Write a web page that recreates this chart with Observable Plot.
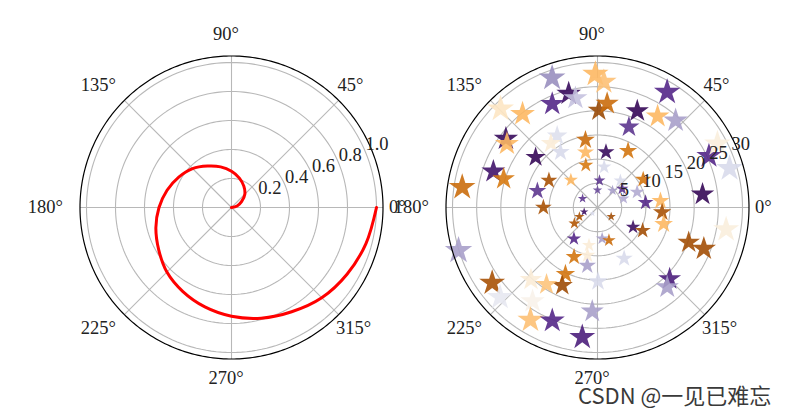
<!DOCTYPE html>
<html><head><meta charset="utf-8">
<script src="https://cdn.jsdelivr.net/npm/d3@7"></script>
<script src="https://cdn.jsdelivr.net/npm/@observablehq/plot@0.6"></script>
<style>
body{margin:0;background:#fff;}
#wrap{position:relative;width:792px;height:413px;overflow:hidden;}
#left,#right{position:absolute;top:0;width:396px;height:413px;}
#left{left:0;} #right{left:396px;}
#wrap svg{display:block;background:transparent;}
#wm{position:absolute;left:578px;top:378px;font-family:"Noto Sans CJK SC";font-size:22px;color:#3a3a3a;white-space:nowrap;}
</style></head><body>
<div id="wrap"><div id="left"></div><div id="right"></div><div id="wm">CSDN @一见已难忘</div></div>
<script>
// ---- left panel: spiral (theta in degrees, r) ----
const spiralTheta = [0,15,30,45,60,75,90,105,120,135,150,165,180,195,210,225,240,255,270,285,300,315,330,345,360];
const spiralR = [0,0.04,0.08,0.13,0.17,0.21,0.25,0.29,0.33,0.38,0.42,0.46,0.5,0.54,0.58,0.63,0.67,0.71,0.75,0.79,0.83,0.88,0.92,0.96,1.0];
const leftRTicks = [0.2,0.4,0.6,0.8,1.0];
const leftRLabels = ["0.2","0.4","0.6","0.8","1.0"];

// ---- shared angular ticks ----
const angleTicks = [0,45,90,135,180,225,270,315];
const angleLabels = ["0°","45°","90°","135°","180°","225°","270°","315°"];

// ---- right panel: star scatter ----
const starTheta = [109.3,104.2,101.4,113.6,134.5,128.7,90.9,87.1,89.2,84.7,143.1,144.9,140.9,119.4,126.0,100.1,102.2,105.4,81.3,61.6,160.9,163.0,171.5,150.9,134.2,164.6,180.0,80.7,31.6,85.8,90.0,149.0,49.6,37.1,48.6,21.3,5.9,5.9,355.8,346.0,7.1,24.8,16.5,28.0,350.3,339.1,338.8,315.3,311.2,48.1,56.6,67.6,68.7,58.9,197.2,215.6,222.6,197.9,206.9,214.5,233.0,257.3,326.3,331.2,332.9,278.5,289.2,244.6,297.6,260.0,244.3,245.7,236.5,227.3,235.3,239.2,248.2,263.3,267.1,270.4,230.2,123.7,258.2,19.1];
const starR = [28.4,24.3,23.1,23.4,28.6,24.8,27.6,26.0,20.1,21.6,23.7,22.9,16.5,17.0,16.4,14.2,11.7,9.1,11.6,13.3,22.8,20.3,28.3,11.5,7.9,12.9,11.2,8.5,11.1,5.6,3.6,3.6,7.3,6.4,4.7,8.8,10.0,13.1,13.4,14.1,21.9,25.4,28.5,28.1,27.0,20.2,23.6,21.0,21.9,24.2,22.6,21.6,17.9,27.9,30.1,26.8,27.4,2.9,4.2,5.8,8.1,8.0,3.4,8.4,10.5,6.5,7.2,11.3,11.9,12.2,15.3,17.7,19.1,20.3,23.6,27.1,25.2,27.0,21.5,15.3,1.6,13.8,10.1,5.7];
const starColor = [0.75,0.97,0.65,0.9,0.42,0.3,0.3,0.32,0.05,0.15,0.97,0.3,0.98,0.58,0.45,0.15,0.3,0.18,0.97,0.17,0.95,0.18,0.15,0.08,0.3,0.88,0.08,0.6,0.17,0.88,0.85,0.88,0.6,0.88,0.72,0.7,0.9,0.3,0.08,0.3,0.98,0.9,0.6,0.46,0.46,0.07,0.07,0.92,0.72,0.72,0.3,0.98,0.88,0.9,0.72,0.08,0.55,0.96,0.08,0.1,0.9,0.45,0.07,0.96,0.07,0.72,0.15,0.17,0.6,0.72,0.17,0.06,0.33,0.45,0.48,0.32,0.9,0.92,0.72,0.6,0.6,0.6,0.45,0.7];
const rightRTicks = [5,10,15,20,25,30];
const rightRLabels = ["5","10","15","20","25","30"];

// PuOr colormap stops (brown -> purple)
const puorStops = ["#7f3b08","#b35806","#e08214","#fdb863","#fee0b6","#f7f7f7","#d8daeb","#b2abd2","#8073ac","#542788","#2d004b"];

const RAD = Math.PI / 180;
const RPX = 151.5;           // pixel radius of the outer frame
const FONT = "'Liberation Serif', 'DejaVu Serif', serif";
const FS = 18.5;

function polar(opts) {
  const {cx, cy, rmax, rTicks, rLabels, dataMarks, extra = {}} = opts;
  const k = rmax / RPX; // data units per pixel
  const ringData = rTicks.flatMap(v => d3.range(0, 361, 2).map(a => ({v, x: v * Math.cos(a * RAD), y: v * Math.sin(a * RAD)})));
  const frame = d3.range(0, 361, 1).map(a => ({x: rmax * Math.cos(a * RAD), y: rmax * Math.sin(a * RAD)}));
  const angData = angleTicks.map((a, i) => {
    const lab = angleLabels[i];
    const ux = Math.cos(a * RAD), uy = Math.sin(a * RAD);
    const w = FS / 2 * (lab.length - 1) + FS;
    const cxp = ux * (RPX + 6) + ux * w / 2;
    const cyp = uy * (RPX + 6) + uy * (uy > 0 ? 16 : 13);
    return {x: (cxp - w / 2) * k, y: cyp * k, lab};
  });
  const rLab = rTicks.map((v, i) => ({x: v * Math.cos(22.5 * RAD), y: v * Math.sin(22.5 * RAD), lab: rLabels[i]}));
  return Plot.plot({
    width: 396, height: 413,
    style: {fontFamily: FONT, background: "transparent", overflow: "visible"},
    x: {type: "linear", domain: [-rmax, rmax], range: [cx - RPX, cx + RPX], axis: null},
    y: {type: "linear", domain: [-rmax, rmax], range: [cy + RPX, cy - RPX], axis: null},
    ...extra,
    marks: [
      Plot.line(ringData, {x: "x", y: "y", z: "v", stroke: "#b8b8b8", strokeWidth: 1.1}),
      Plot.link(angleTicks, {x1: () => 0, y1: () => 0, x2: a => rmax * Math.cos(a * RAD), y2: a => rmax * Math.sin(a * RAD), stroke: "#b8b8b8", strokeWidth: 1.1}),
      ...dataMarks,
      Plot.line(frame, {x: "x", y: "y", stroke: "#000", strokeWidth: 1.2}),
      Plot.text(rLab, {x: "x", y: "y", text: "lab", textAnchor: "start", lineAnchor: "bottom", dy: -2, fontSize: FS, fontFamily: FONT, fill: "#222"}),
      Plot.text(angData, {x: "x", y: "y", text: "lab", textAnchor: "start", lineAnchor: "middle", fontSize: FS, fontFamily: FONT, fill: "#222"})
    ]
  });
}

const spiral = spiralTheta.map((t, i) => ({t, r: spiralR[i]}));
const leftPlot = polar({
  cx: 231, cy: 207, rmax: 1.0 * RPX / 145, rTicks: leftRTicks, rLabels: leftRLabels,
  dataMarks: [
    Plot.line(spiral, {x: d => d.r * Math.cos(d.t * RAD), y: d => d.r * Math.sin(d.t * RAD), stroke: "red", strokeWidth: 3, curve: "catmull-rom"})
  ]
});
document.getElementById("left").append(leftPlot);

const stars = starTheta.map((t, i) => ({t, r: starR[i], c: starColor[i]}));
const rightPlot = polar({
  cx: 201, cy: 207, rmax: 30 * RPX / 145, rTicks: rightRTicks, rLabels: rightRLabels,
  extra: {
    r: {type: "sqrt", domain: [0, 30], range: [0, 8.6]},
    color: {type: "linear", domain: d3.range(11).map(i => i / 10), range: puorStops, interpolate: "rgb"}
  },
  dataMarks: [
    Plot.dot(stars, {x: d => d.r * Math.cos(d.t * RAD), y: d => d.r * Math.sin(d.t * RAD), r: "r", fill: "c", symbol: "star", fillOpacity: 0.9, stroke: "none", sort: null})
  ]
});
document.getElementById("right").append(rightPlot);
</script>
</body></html>
